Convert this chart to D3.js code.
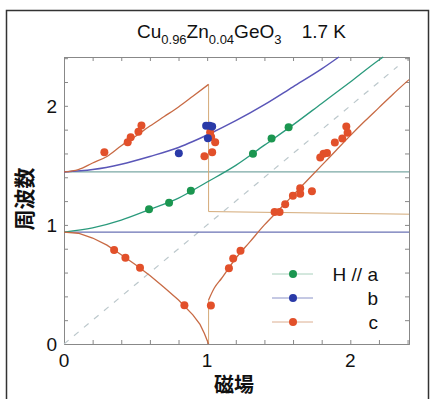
<!DOCTYPE html>
<html>
<head>
<meta charset="utf-8">
<script src="https://cdn.jsdelivr.net/npm/d3@7"></script>
<style>
    body { margin: 0; background: #fff; }
    svg text { font-family: "Liberation Sans", Arial, sans-serif; fill: #111; }
    .jp { font-family: "Noto Sans CJK JP", sans-serif; font-weight: bold; }
</style>
</head>
<body>
<svg id="chart" width="435" height="399"></svg>
<script>
// measured points (field, frequency)
var pointsA = [[0.594, 1.132], [0.734, 1.187], [0.886, 1.286], [1.320, 1.597], [1.450, 1.725], [1.569, 1.821]];
var pointsB = [[0.802, 1.601], [0.993, 1.832], [1.017, 1.832], [1.035, 1.826], [1.005, 1.727]];
var pointsC = [
    [0.282, 1.611], [0.445, 1.695], [0.466, 1.737], [0.520, 1.782], [0.541, 1.834],
    [1.021, 1.779], [1.028, 1.739], [1.056, 1.695], [0.981, 1.576], [1.035, 1.611],
    [0.350, 0.790], [0.429, 0.725], [0.531, 0.641], [0.841, 0.325], [1.026, 0.324],
    [1.152, 0.636], [1.182, 0.717], [1.233, 0.782], [1.471, 1.108], [1.506, 1.108],
    [1.545, 1.174], [1.599, 1.244], [1.650, 1.308], [1.650, 1.261], [1.732, 1.283],
    [1.790, 1.566], [1.813, 1.597], [1.837, 1.603], [1.892, 1.692], [1.944, 1.725],
    [1.981, 1.773], [1.972, 1.826]
];

// theory curves
var curveGreen = [[0, 0.94], [0.2, 0.975], [0.4, 1.04], [0.6, 1.13], [0.8, 1.225], [1.0, 1.36], [1.2, 1.50],
    [1.4, 1.67], [1.6, 1.84], [1.8, 2.02], [2.0, 2.20], [2.2, 2.385], [2.23, 2.41]];
var curveBlue = [[0, 1.445], [0.2, 1.465], [0.4, 1.51], [0.6, 1.575], [0.8, 1.65], [0.9, 1.70], [1.0, 1.755],
    [1.2, 1.875], [1.4, 2.01], [1.6, 2.16], [1.8, 2.31], [1.92, 2.41]];
var curveUpper = [[0, 1.445], [0.1, 1.465], [0.2, 1.52], [0.3, 1.575], [0.4, 1.665], [0.5, 1.745], [0.6, 1.83],
    [0.7, 1.91], [0.8, 1.99], [0.9, 2.08], [1.01, 2.18]];
var curveLower = [[0, 0.94], [0.1, 0.93], [0.2, 0.89], [0.3, 0.83], [0.4, 0.75], [0.5, 0.665], [0.6, 0.575],
    [0.7, 0.475], [0.8, 0.37], [0.9, 0.245], [0.95, 0.165], [0.98, 0.09], [1.01, 0]];
var curveRise = [[1.01, 0.37], [1.05, 0.47], [1.1, 0.55], [1.2, 0.72], [1.3, 0.86], [1.4, 1.00], [1.5, 1.125],
    [1.6, 1.25], [1.7, 1.375], [1.8, 1.50], [1.9, 1.625], [2.0, 1.75], [2.1, 1.87], [2.2, 1.985], [2.3, 2.10], [2.41, 2.22]];
var stepLine = [[1.01, 2.18], [1.01, 1.112], [2.41, 1.09]];
var riseStem = [[1.01, 0], [1.01, 0.37]];
var gapLevels = [0.94, 1.445];
var diagonal = [[0, 0], [2.33, 2.33]];

var xTickLabels = [0, 1, 2];
var yTickLabels = [0, 1, 2];
var legendItems = [
    {label: "H // a", color: "#1b9650", line: "#a8d0bc"},
    {label: "b", color: "#2a3aa8", line: "#8a92c8"},
    {label: "c", color: "#e2502a", line: "#dcae90"}
];

function FieldChart(svg) {

    var self = this;

    self.config = {
        left: 64, right: 409, top: 57, bottom: 344,
        xMax: 2.41, yMax: 2.41
    };

    self.x = d3.scaleLinear().domain([0, self.config.xMax]).range([self.config.left, self.config.right]);
    self.y = d3.scaleLinear().domain([0, self.config.yMax]).range([self.config.bottom, self.config.top]);

    self.line = d3.line()
        .x(function (d) { return self.x(d[0]); })
        .y(function (d) { return self.y(d[1]); });

    self.smooth = d3.line()
        .curve(d3.curveMonotoneX)
        .x(function (d) { return self.x(d[0]); })
        .y(function (d) { return self.y(d[1]); });

    self.draw = function () {
        // outer frame of the figure
        svg.append("rect")
            .attr("x", 6.5).attr("y", 10.5).attr("width", 422).attr("height", 400)
            .attr("fill", "none").attr("stroke", "#333").attr("stroke-width", 1.5);

        self._drawTitle();
        self._drawAxes();
        self._drawCurves();
        self._drawPoints();
        self._drawLegend();
    };

    self._drawTitle = function () {
        var t = svg.append("text").attr("x", 137).attr("y", 38).attr("font-size", 19);
        t.append("tspan").text("Cu");
        t.append("tspan").attr("font-size", 13).attr("dy", 6).text("0.96");
        t.append("tspan").attr("dy", -6).text("Zn");
        t.append("tspan").attr("font-size", 13).attr("dy", 6).text("0.04");
        t.append("tspan").attr("dy", -6).text("GeO");
        t.append("tspan").attr("font-size", 13).attr("dy", 6).text("3");
        svg.append("text").attr("x", 346).attr("y", 38).attr("font-size", 19)
            .attr("text-anchor", "end").text("1.7 K");
    };

    self._drawAxes = function () {
        var c = self.config;
        var minor = d3.range(0, c.xMax, 0.2);
        var g = svg.append("g").attr("class", "axes");

        g.append("g").attr("transform", "translate(0," + c.bottom + ")")
            .call(d3.axisBottom(self.x).tickValues(minor).tickSize(-4).tickFormat(""));
        g.append("g").attr("transform", "translate(0," + c.top + ")")
            .call(d3.axisTop(self.x).tickValues(minor).tickSize(-4).tickFormat(""));
        g.append("g").attr("transform", "translate(" + c.left + ",0)")
            .call(d3.axisLeft(self.y).tickValues(minor).tickSize(-4).tickFormat(""));
        g.append("g").attr("transform", "translate(" + c.right + ",0)")
            .call(d3.axisRight(self.y).tickValues(minor).tickSize(-4).tickFormat(""));

        g.selectAll("path, line").attr("stroke", "#888").attr("stroke-width", 1);

        svg.selectAll(".xlab").data(xTickLabels).enter().append("text")
            .attr("x", function (d) { return self.x(d); })
            .attr("y", 367).attr("text-anchor", "middle").attr("font-size", 19)
            .text(function (d) { return d; });

        svg.selectAll(".ylab").data(yTickLabels).enter().append("text")
            .attr("x", 57)
            .attr("y", function (d) { return self.y(d) + 7; })
            .attr("text-anchor", "end").attr("font-size", 19)
            .text(function (d) { return d; });

        svg.append("text").attr("class", "jp")
            .attr("transform", "translate(32,199) rotate(-90)")
            .attr("text-anchor", "middle").attr("font-size", 21)
            .text("周波数");

        svg.append("text").attr("class", "jp")
            .attr("x", 234).attr("y", 392)
            .attr("text-anchor", "middle").attr("font-size", 20)
            .text("磁場");
    };

    self._drawCurves = function () {
        var g = svg.append("g").attr("class", "curves").attr("fill", "none");

        g.append("path").attr("d", self.line(diagonal))
            .attr("stroke", "#bcc8cc").attr("stroke-width", 1.2).attr("stroke-dasharray", "6,7");

        g.selectAll(".gap").data(gapLevels).enter().append("line")
            .attr("x1", self.x(0)).attr("x2", self.x(self.config.xMax))
            .attr("y1", function (d) { return self.y(d); })
            .attr("y2", function (d) { return self.y(d); })
            .attr("stroke", function (d, i) { return i === 0 ? "#6a72b4" : "#7aa8a4"; })
            .attr("stroke-width", 1.3);

        g.append("path").attr("d", self.line(stepLine))
            .attr("stroke", "#d4aa78").attr("stroke-width", 1);
        g.append("path").attr("d", self.line(riseStem))
            .attr("stroke", "#d4aa78").attr("stroke-width", 1);

        g.append("path").attr("d", self.smooth(curveGreen)).attr("stroke", "#2a9a7c").attr("stroke-width", 1.3);
        g.append("path").attr("d", self.smooth(curveBlue)).attr("stroke", "#5a56b8").attr("stroke-width", 1.5);
        g.append("path").attr("d", self.smooth(curveUpper)).attr("stroke", "#c86a44").attr("stroke-width", 1.3);
        g.append("path").attr("d", self.line(curveLower)).attr("stroke", "#c86a44").attr("stroke-width", 1.3);
        g.append("path").attr("d", self.smooth(curveRise)).attr("stroke", "#c86a44").attr("stroke-width", 1.3);
    };

    self._drawPoints = function () {
        var sets = [[pointsC, legendItems[2].color], [pointsA, legendItems[0].color], [pointsB, legendItems[1].color]];
        sets.forEach(function (s) {
            svg.append("g").selectAll("circle").data(s[0]).enter().append("circle")
                .attr("cx", function (d) { return self.x(d[0]); })
                .attr("cy", function (d) { return self.y(d[1]); })
                .attr("r", 4)
                .attr("fill", s[1]);
        });
    };

    self._drawLegend = function () {
        var g = svg.append("g").attr("class", "legend");
        var rows = g.selectAll("g").data(legendItems).enter().append("g")
            .attr("transform", function (d, i) { return "translate(0," + (274 + i * 24) + ")"; });

        rows.append("line").attr("x1", 272).attr("x2", 313).attr("y1", 0).attr("y2", 0)
            .attr("stroke", function (d) { return d.line; }).attr("stroke-width", 1);
        rows.append("circle").attr("cx", 293).attr("cy", 0).attr("r", 4)
            .attr("fill", function (d) { return d.color; });
        rows.append("text").attr("x", 378).attr("y", 7).attr("text-anchor", "end").attr("font-size", 19)
            .text(function (d) { return d.label; });
    };
}

var chart = new FieldChart(d3.select("#chart"));
chart.draw();
</script>
</body>
</html>
